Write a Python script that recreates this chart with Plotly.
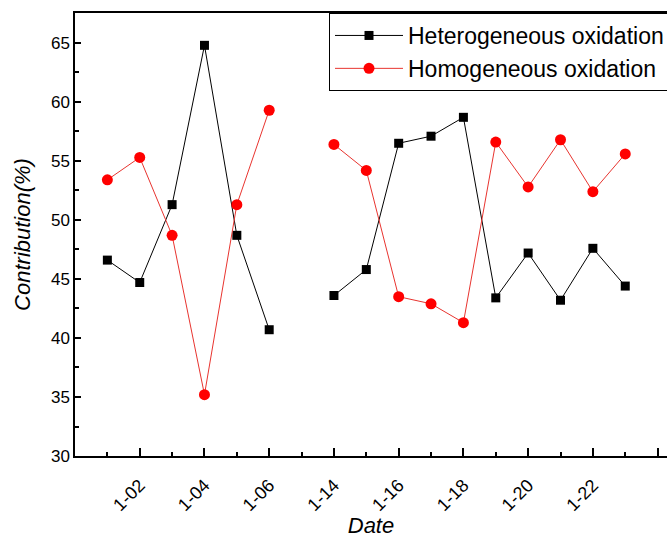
import plotly.graph_objects as go

dates = ["1-01", "1-02", "1-03", "1-04", "1-05", "1-06", "",
         "1-14", "1-15", "1-16", "1-17", "1-18", "1-19", "1-20", "1-21", "1-22", "1-23"]
heterogeneous = [46.6, 44.7, 51.3, 64.8, 48.7, 40.7, None,
                 43.6, 45.8, 56.5, 57.1, 58.7, 43.4, 47.2, 43.2, 47.6, 44.4]
homogeneous = [53.4, 55.3, 48.7, 35.2, 51.3, 59.3, None,
               56.4, 54.2, 43.5, 42.9, 41.3, 56.6, 52.8, 56.8, 52.4, 55.6]
tick_labels = ["1-02", "1-04", "1-06", "1-14", "1-16", "1-18", "1-20", "1-22", ""]

xpos = list(range(1, len(dates) + 1))
major_ticks = list(range(2, len(dates) + 2, 2))
minor_ticks = list(range(1, len(dates) + 2, 2))

FONT = "Arial, Liberation Sans, sans-serif"

fig = go.Figure()
fig.add_trace(go.Scatter(
    x=xpos, y=heterogeneous, name="Heterogeneous oxidation",
    mode="lines+markers",
    line=dict(color="black", width=1),
    marker=dict(symbol="square", size=9, color="black"),
))
fig.add_trace(go.Scatter(
    x=xpos, y=homogeneous, name="Homogeneous oxidation",
    mode="lines+markers",
    line=dict(color="#e8342f", width=1),
    marker=dict(symbol="circle", size=11, color="#ff0000"),
))

fig.update_layout(
    width=667, height=538,
    margin=dict(l=75, r=0, t=13, b=82, autoexpand=False),
    paper_bgcolor="white", plot_bgcolor="white",
    font=dict(family=FONT, color="black", size=17),
    showlegend=True,
    legend=dict(
        x=(329 - 75) / 592, y=1.0, xanchor="left", yanchor="top",
        bordercolor="black", borderwidth=1, bgcolor="white",
        font=dict(size=23, family=FONT),
        tracegroupgap=0, itemwidth=68,
    ),
)

fig.update_xaxes(
    range=[0, 18.29],
    tickmode="array", tickvals=major_ticks, ticktext=tick_labels,
    tickangle=-45,
    ticks="inside", ticklen=8, tickwidth=1.5, tickcolor="black",
    ticklabelstandoff=10,
    minor=dict(tickmode="array", tickvals=minor_ticks, ticks="inside",
               ticklen=4, tickwidth=1.5, tickcolor="black", showgrid=False),
    showline=True, linecolor="black", linewidth=1.5, mirror=True,
    showgrid=False, zeroline=False, automargin=True,
    tickfont=dict(size=18),
    title=dict(text="<i>Date</i>", font=dict(size=22), standoff=6),
)
fig.update_yaxes(
    range=[30, 67.54],
    tickmode="array", tickvals=[30, 35, 40, 45, 50, 55, 60, 65],
    ticks="inside", ticklen=6, tickwidth=1.5, tickcolor="black",
    minor=dict(tickmode="array", tickvals=[32.5, 37.5, 42.5, 47.5, 52.5, 57.5, 62.5, 67.5],
               ticks="inside", ticklen=4, tickwidth=1.5, tickcolor="black", showgrid=False),
    showline=True, linecolor="black", linewidth=1.5,
    showgrid=False, zeroline=False,
    tickfont=dict(size=17),
    title=dict(text="<i>Contribution(%)</i>", font=dict(size=22), standoff=14),
)

fig.write_html("out.html")
